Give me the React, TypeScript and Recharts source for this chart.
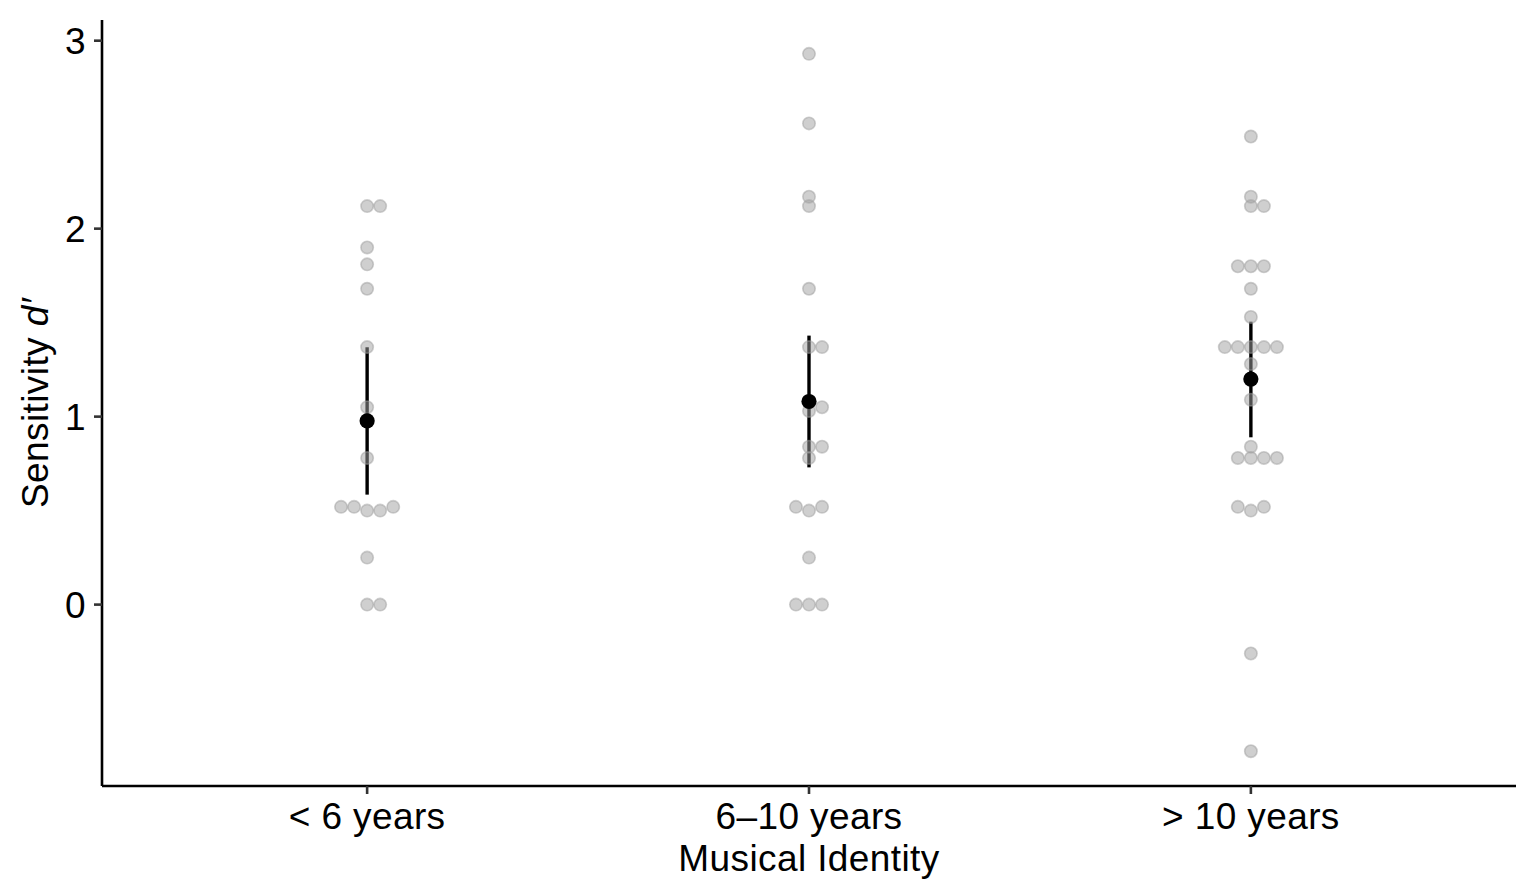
import { ComposedChart, ErrorBar, Scatter, XAxis, YAxis } from "recharts";

// d' per participant
const categories = ["< 6 years", "6–10 years", "> 10 years"];
const underSix = [2.12, 2.12, 1.9, 1.81, 1.68, 1.37, 1.05, 0.78, 0.52, 0.52, 0.5, 0.5, 0.52, 0.25, 0, 0];
const sixToTen = [2.93, 2.56, 2.17, 2.12, 1.68, 1.37, 1.37, 1.05, 1.03, 0.84, 0.84, 0.78, 0.52, 0.5, 0.52, 0.25, 0, 0, 0];
const overTen = [
  2.49, 2.17, 2.12, 2.12, 1.8, 1.8, 1.8, 1.68, 1.53, 1.37, 1.37, 1.37, 1.37, 1.37, 1.28, 1.09, 0.84, 0.78, 0.78, 0.78,
  0.78, 0.52, 0.5, 0.52, -0.26, -0.78,
];
const groups = [underSix, sixToTen, overTen];
// 95% CI ends of the mean
const ciLow = [0.585, 0.73, 0.89];
const ciHigh = [1.369, 1.431, 1.505];
const yTicks = [0, 1, 2, 3];

const SWARM_STEP = 0.0295; // one dot width, in category units
const TIE_GAP = 0.03; // values this close share a row
const slotOrder = [0, 1, -1, 2, -2, 3, -3];

const font = "'Liberation Sans', Arial, Helvetica, sans-serif";
const tickStyle = { fill: "#000", fontSize: 37, fontFamily: font, letterSpacing: 0.4 };
const titleStyle = { fill: "#000", fontSize: 37, fontFamily: font, letterSpacing: 0.4 };

function swarm(values: number[], center: number) {
  const sorted = values.map((v, i) => ({ v, i })).sort((a, b) => a.v - b.v || a.i - b.i);
  const rows: { v: number; i: number }[][] = [];
  for (const p of sorted) {
    const row = rows[rows.length - 1];
    if (row && p.v - row[0].v <= TIE_GAP) row.push(p);
    else rows.push([p]);
  }
  return rows.flatMap((row) => row.map((p, k) => ({ x: center + slotOrder[k] * SWARM_STEP, y: p.v })));
}

const swarmPoints = groups.flatMap((values, g) => swarm(values, g + 1));

const meanPoints = groups.map((values, g) => {
  const mean = values.reduce((s, v) => s + v, 0) / values.length;
  return { x: g + 1, y: mean, err: [mean - ciLow[g], ciHigh[g] - mean] };
});

function GrayDot(props: any) {
  return (
    <circle
      cx={props.cx}
      cy={props.cy}
      r={6.2}
      fill="#9f9f9f"
      fillOpacity={0.5}
      stroke="#9f9f9f"
      strokeOpacity={0.5}
      strokeWidth={1.6}
    />
  );
}

function MeanDot(props: any) {
  return <circle cx={props.cx} cy={props.cy} r={7.6} fill="#000" />;
}

function YTitle(props: any) {
  const vb = props.viewBox;
  const cx = vb.x + 48;
  const cy = vb.y + vb.height / 2;
  return (
    <text transform={`translate(${cx} ${cy}) rotate(-90)`} textAnchor="middle" style={titleStyle}>
      Sensitivity <tspan fontStyle="italic">d′</tspan>
    </text>
  );
}

function XTitle(props: any) {
  const vb = props.viewBox;
  return (
    <text x={vb.x + vb.width / 2} y={vb.y + 85} textAnchor="middle" style={titleStyle}>
      Musical Identity
    </text>
  );
}

export default function App() {
  return (
    <div style={{ position: "absolute", left: 0, top: 0, background: "#fff" }}>
      <ComposedChart width={1535} height={889} margin={{ top: 20, right: 19, bottom: 0, left: 0 }}>
        <XAxis
          type="number"
          dataKey="x"
          domain={[0.4, 3.6]}
          ticks={[1, 2, 3]}
          allowDataOverflow
          height={103}
          tickFormatter={(v: number) => categories[Math.round(v) - 1]}
          tick={tickStyle}
          tickSize={8}
          tickMargin={9}
          axisLine={{ stroke: "#000", strokeWidth: 2.6 }}
          tickLine={{ stroke: "#333", strokeWidth: 2.6 }}
          label={(p: any) => <XTitle {...p} />}
        />
        <YAxis
          type="number"
          dataKey="y"
          domain={[-0.965, 3.11]}
          ticks={yTicks}
          allowDataOverflow
          width={102}
          tick={tickStyle}
          tickSize={8}
          tickMargin={8}
          axisLine={{ stroke: "#000", strokeWidth: 2.6 }}
          tickLine={{ stroke: "#333", strokeWidth: 2.6 }}
          label={(p: any) => <YTitle {...p} />}
        />
        <Scatter data={swarmPoints} shape={GrayDot} isAnimationActive={false} />
        <Scatter data={meanPoints} shape={MeanDot} isAnimationActive={false}>
          <ErrorBar dataKey="err" direction="y" width={0} stroke="#000" strokeWidth={3.4} isAnimationActive={false} />
        </Scatter>
      </ComposedChart>
    </div>
  );
}
